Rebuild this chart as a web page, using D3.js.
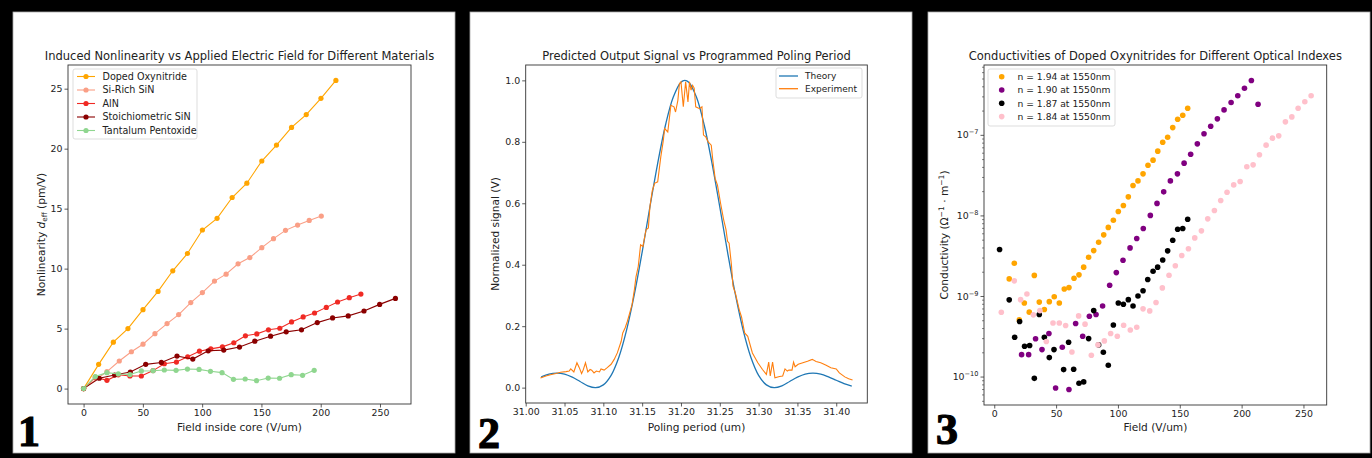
<!DOCTYPE html>
<html>
<head>
<meta charset="utf-8">
<script src="https://cdn.jsdelivr.net/npm/d3@7"></script>
<style>
  body { margin: 0; background: #000; overflow: hidden; }
  svg text { fill: #222; }
</style>
</head>
<body>
<div id="wrapper"></div>
<script>
// ---- panel 1 : induced nonlinearity vs field ----
const fieldOxy = [0,12.7,25.1,37.4,50.1,62.8,75.2,87.6,100.2,112.6,125.3,137.7,150.3,162.7,175.4,187.8,200.2,212.8];
const dOxy = [0,2.02,3.87,5.0,6.58,8.1,9.82,11.26,13.22,14.19,15.93,17.12,18.97,20.30,21.77,22.84,24.2,25.69];
const fieldSiRich = [0,19.7,30.1,40.3,50.1,60.2,70.4,80.2,90.4,100.2,110.4,120.2,130.3,140.2,150.3,160.2,170.3,180.5,190.3,200.5];
const dSiRich = [0,1.42,2.3,3.07,3.7,4.58,5.42,6.17,7.17,8.0,8.96,9.54,10.4,10.92,11.75,12.5,13.19,13.63,14.02,14.38];
const fieldAlN = [0,9.9,19.7,29.3,39.1,48.7,58.6,68.1,78.3,87.8,97.7,107.3,117.1,126.7,136.5,146.1,155.9,165.5,175.4,185.2,194.8,204.7,214.2,224.1,233.9];
const dAlN = [0,0.95,0.69,1.15,1.05,1.05,1.5,2.07,2.21,2.65,3.12,3.31,3.48,3.82,4.4,4.56,4.9,5.03,5.56,5.97,6.3,6.77,7.22,7.58,7.88];
const fieldSiN = [0,13.2,26.2,39.4,52.4,65.6,78.8,92.1,105.1,118.2,131.5,144.4,157.7,170.9,183.8,197.1,210,223.2,236.5,249.7,263];
const dSiN = [0,0.86,1.13,1.38,2.02,2.18,2.71,2.46,3.15,3.21,3.46,3.95,4.37,4.73,4.9,5.5,5.89,6.06,6.47,7.02,7.52];
const fieldTa = [0,9.9,19.7,29.3,39.1,48.7,58.6,68.1,78,87.6,97.4,107,116.8,126.4,136.3,145.8,155.7,165.3,175.1,184.7,194.5];
const dTa = [0,1.0,1.33,1.22,1.17,1.47,1.49,1.55,1.52,1.63,1.6,1.44,1.33,0.77,0.8,0.66,0.88,0.86,1.16,1.11,1.52];
const materials = ["Doped Oxynitride","Si-Rich SiN","AlN","Stoichiometric SiN","Tantalum Pentoxide"];
const ticks1X = [0,50,100,150,200,250];
const ticks1Y = [0,5,10,15,20,25];

// ---- panel 2 : output signal vs poling period ----
const periodTheory = [31.02,31.03,31.04,31.05,31.06,31.07,31.08,31.09,31.10,31.11,31.12,31.13,31.14,31.15,31.16,31.17,31.18,31.19,31.20,31.205,
  31.21,31.22,31.23,31.24,31.25,31.26,31.27,31.28,31.29,31.30,31.31,31.32,31.33,31.34,31.35,31.36,31.37,31.38,31.39,31.40,31.41,31.42];
const signalTheory = [0.035,0.044,0.047,0.044,0.034,0.020,0.006,0.000,0.009,0.040,0.099,0.188,0.304,0.441,0.588,0.730,0.854,0.945,0.994,1.000,
  0.994,0.945,0.854,0.730,0.588,0.441,0.304,0.188,0.099,0.040,0.009,0.000,0.006,0.020,0.034,0.044,0.047,0.044,0.035,0.024,0.013,0.005];
const periodExp = [31.019,31.026,31.032,31.039,31.045,31.052,31.056,31.058,31.062,31.066,
  31.069,31.072,31.074,31.077,31.080,31.083,31.085,31.088,31.091,31.095,
  31.097,31.101,31.105,31.110,31.114,31.118,31.123,31.125,31.128,31.131,
  31.134,31.137,31.140,31.142,31.145,31.148,31.151,31.155,31.158,31.160,
  31.163,31.166,31.170,31.174,31.177,31.179,31.183,31.187,31.191,31.193,
  31.196,31.198,31.200,31.203,31.206,31.209,31.211,31.213,31.215,31.217,
  31.219,31.224,31.227,31.229,31.232,31.235,31.239,31.241,31.244,31.247,
  31.251,31.255,31.258,31.260,31.262,31.265,31.267,31.270,31.275,31.278,
  31.282,31.286,31.292,31.299,31.305,31.310,31.313,31.315,31.318,31.321,
  31.327,31.331,31.334,31.337,31.339,31.343,31.345,31.347,31.351,31.357,
  31.363,31.369,31.374,31.380,31.387,31.393,31.400,31.404,31.411,31.416,31.421];
const signalExp = [0.031,0.038,0.042,0.046,0.050,0.052,0.054,0.061,0.051,0.081,
  0.065,0.046,0.057,0.081,0.051,0.059,0.057,0.048,0.054,0.051,
  0.061,0.057,0.065,0.076,0.092,0.113,0.151,0.178,0.194,0.216,
  0.243,0.270,0.319,0.360,0.395,0.465,0.459,0.514,0.520,0.589,
  0.640,0.665,0.670,0.751,0.800,0.843,0.832,0.919,0.914,0.897,
  0.935,0.989,0.995,0.914,0.995,0.930,0.995,0.968,0.984,0.975,
  0.914,0.908,0.914,0.822,0.816,0.800,0.789,0.741,0.681,0.659,
  0.600,0.546,0.514,0.476,0.470,0.400,0.330,0.308,0.254,0.230,
  0.178,0.167,0.113,0.081,0.059,0.043,0.083,0.038,0.083,0.032,
  0.036,0.038,0.061,0.054,0.057,0.057,0.083,0.068,0.076,0.081,
  0.086,0.092,0.085,0.081,0.073,0.065,0.061,0.048,0.035,0.029,0.025];
const ticks2X = [31.00,31.05,31.10,31.15,31.20,31.25,31.30,31.35,31.40];
const ticks2Y = [0,0.2,0.4,0.6,0.8,1.0];

// ---- panel 3 : conductivity vs field (log) ----
const field194 = [12.1,16.2,20.2,24.3,28.3,32.4,36.4,40.5,44.5,48.5,52.6,56.6,60.4,64.5,68.5,72.3,76.3,80.4,84.4,88.5,
  92.2,96.3,100.3,104.4,108.4,112.2,116.2,120.3,124.3,128.4,132.2,136.2,140.2,144.3,148.3,152.4,156.4];
const sigma194 = [1.63e-9,2.55e-9,5.05e-10,8.2e-10,6.3e-10,1.8e-9,8.4e-10,6.8e-10,8.5e-10,9.8e-10,
  8.2e-10,1.22e-9,1.27e-9,1.66e-9,1.83e-9,2.28e-9,3.03e-9,3.66e-9,4.65e-9,5.74e-9,
  7.1e-9,8.7e-9,1.12e-8,1.33e-8,1.70e-8,2.35e-8,2.68e-8,3.28e-8,4.2e-8,4.85e-8,
  6.27e-8,8.1e-8,9.35e-8,1.23e-7,1.56e-7,1.75e-7,2.14e-7];
const field190 = [22.1,27.8,33.4,38.6,44.2,49.6,55.0,60.4,65.8,71.5,76.9,82.3,87.6,93.3,98.7,104.1,109.8,115.2,120.5,126.2,
  131.6,137.0,142.4,148.1,153.5,158.8,164.2,169.6,175.0,180.4,185.8,191.5,196.9,202.3,207.9,213.3];
const sigma190 = [1.87e-10,1.87e-10,2.94e-10,2.16e-10,3.42e-10,7.2e-11,2.31e-10,6.9e-11,4.55e-10,3.17e-10,
  5.6e-10,5.9e-10,7.5e-10,1.36e-9,1.95e-9,2.78e-9,3.95e-9,5.16e-9,6.87e-9,1.0e-8,
  1.41e-8,1.96e-8,2.68e-8,3.28e-8,4.45e-8,5.75e-8,7.73e-8,1.03e-7,1.28e-7,1.58e-7,
  2.04e-7,2.52e-7,3.05e-7,3.79e-7,4.73e-7,2.40e-7];
const field187 = [4.3,12.1,16.5,20.5,24.5,28.6,32.4,36.4,40.5,44.5,48.3,56.1,60.1,64.2,68.5,72.3,76.3,80.4,84.4,88.2,
  92.2,96.3,100.3,104.4,108.4,112.2,116.2,120.3,124.1,128.4,132.1,136.2,140.2,144.3,148.3,152.4,156.4];
const sigma187 = [3.78e-9,8.95e-10,3.08e-10,4.82e-10,2.38e-10,2.43e-10,9.5e-11,5.89e-10,3.08e-10,1.72e-10,
  2.16e-10,1.22e-10,2.67e-10,1.23e-10,8.26e-11,8.59e-11,2.96e-10,6.59e-10,2.47e-10,2.0e-10,
  1.38e-10,4.37e-10,8.2e-10,7.9e-10,9.0e-10,7.5e-10,1.0e-9,1.16e-9,1.6e-9,2.03e-9,
  2.28e-9,2.8e-9,3.63e-9,4.92e-9,6.74e-9,6.87e-9,8.97e-9];
const field184 = [5.7,16.2,21.3,26.4,31.6,36.9,42.1,47.5,52.6,57.7,62.8,68.2,73.4,78.5,83.9,89.0,94.1,99.5,104.6,110.0,
  115.2,120.3,125.7,130.8,135.9,141.3,146.4,151.6,157.0,162.1,167.5,172.6,178.0,183.1,188.2,193.6,198.8,204.2,209.3,214.4,
  219.8,224.9,230.0,235.4,240.6,245.7,251.1,256.2];
const sigma184 = [6.29e-10,1.54e-9,9.0e-10,1.06e-9,5.83e-10,6.59e-10,2.72e-10,4.63e-10,4.63e-10,4.3e-10,
  2.02e-10,5.66e-10,4.47e-10,1.84e-10,2.47e-10,2.77e-10,3.42e-10,3.17e-10,4.34e-10,3.79e-10,
  4.09e-10,6.92e-10,6.53e-10,8.3e-10,1.26e-9,1.81e-9,2.37e-9,3.18e-9,3.85e-9,5.26e-9,
  6.43e-9,9.06e-9,1.15e-8,1.53e-8,1.94e-8,2.39e-8,2.63e-8,4.01e-8,4.24e-8,5.65e-8,
  7.45e-8,9.1e-8,9.72e-8,1.45e-7,1.67e-7,2.14e-7,2.57e-7,3.05e-7];
const indexLabels = ["n = 1.94 at 1550nm","n = 1.90 at 1550nm","n = 1.87 at 1550nm","n = 1.84 at 1550nm"];
const ticks3X = [0,50,100,150,200,250];
const ticks3Y = [1e-10,1e-9,1e-8,1e-7];

// ---------------------------------------------------------------
const width = 1372, height = 458;
const FONT = "DejaVu Sans, sans-serif";
const svg = d3.select("#wrapper").append("svg")
    .attr("width", width)
    .attr("height", height)
    .style("font-family", FONT);
svg.append("rect").attr("width", width).attr("height", height).attr("fill", "#000");

const zip = (xs, ys) => xs.map((x, i) => [x, ys[i]]);
// matplotlib style 5% margins
const pad = (ext) => { const r = ext[1] - ext[0]; return [ext[0] - 0.05 * r, ext[1] + 0.05 * r]; };

function panel(p) {
    svg.append("rect")
        .attr("x", p.x).attr("y", p.y).attr("width", p.w).attr("height", p.h)
        .attr("fill", "#fff").attr("stroke", "#aaa").attr("stroke-width", 0.8);
    svg.append("text")
        .attr("x", p.numX).attr("y", p.numY)
        .text(p.num)
        .style("font-family", "Liberation Serif, serif")
        .style("font-weight", "bold")
        .style("font-size", "44px")
        .style("fill", "#000")
        .attr("stroke", "#000").attr("stroke-width", 1.2);
}

function frame(a, xScale, yScale, xTicks, yTicks, xFmt, yFmt) {
    const g = svg.append("g");
    const xAxis = g.append("g")
        .attr("transform", `translate(0,${a.bottom})`)
        .call(d3.axisBottom(xScale).tickValues(xTicks).tickFormat(xFmt).tickSize(3.5).tickPadding(2));
    const yAxis = g.append("g")
        .attr("transform", `translate(${a.left},0)`)
        .call(d3.axisLeft(yScale).tickValues(yTicks).tickFormat(yFmt).tickSize(3.5).tickPadding(2));
    [xAxis, yAxis].forEach(ax => {
        ax.attr("font-family", FONT);
        ax.select(".domain").remove();
        ax.selectAll("line").attr("stroke", "#333").attr("stroke-width", 0.8);
        ax.selectAll("text").attr("font-size", 9.4).style("fill", "#222");
    });
    return { g, xAxis, yAxis };
}

function box(a) {
    svg.append("rect")
        .attr("x", a.left).attr("y", a.top)
        .attr("width", a.right - a.left).attr("height", a.bottom - a.top)
        .attr("fill", "none").attr("stroke", "#333").attr("stroke-width", 0.9);
}

function labels(a, title, xLabel, yLabelX) {
    const cx = (a.left + a.right) / 2;
    svg.append("text").attr("x", cx).attr("y", 60)
        .attr("text-anchor", "middle").attr("font-size", 11.5).text(title);
    svg.append("text").attr("x", cx).attr("y", 431)
        .attr("text-anchor", "middle").attr("font-size", 10.6).text(xLabel);
    return svg.append("text")
        .attr("transform", `translate(${yLabelX},${(a.top + a.bottom) / 2}) rotate(-90)`)
        .attr("text-anchor", "middle").attr("font-size", 10.6);
}

function legendBox(x, y, w, h) {
    svg.append("rect")
        .attr("x", x).attr("y", y).attr("width", w).attr("height", h).attr("rx", 2)
        .attr("fill", "#fff").attr("fill-opacity", 0.85)
        .attr("stroke", "#d4d4d4").attr("stroke-width", 0.8);
}

// ================= Panel 1 =================
panel({ x: 13, y: 12, w: 442, h: 441, num: "1", numX: 18, numY: 446 });
const a1 = { left: 68, right: 411, top: 65, bottom: 404 };
const series1 = [
    { name: materials[0], xs: fieldOxy, ys: dOxy, color: "#ffa500" },
    { name: materials[1], xs: fieldSiRich, ys: dSiRich, color: "#fa9f86" },
    { name: materials[2], xs: fieldAlN, ys: dAlN, color: "#f02a24" },
    { name: materials[3], xs: fieldSiN, ys: dSiN, color: "#8b0000" },
    { name: materials[4], xs: fieldTa, ys: dTa, color: "#8fd68f" },
];
const x1 = d3.scaleLinear()
    .domain(pad(d3.extent(series1.flatMap(s => s.xs))))
    .range([a1.left, a1.right]);
const y1 = d3.scaleLinear()
    .domain(pad(d3.extent(series1.flatMap(s => s.ys))))
    .range([a1.bottom, a1.top]);
frame(a1, x1, y1, ticks1X, ticks1Y, d3.format("d"), d3.format("d"));

const line1 = d3.line().x(d => x1(d[0])).y(d => y1(d[1]));
series1.forEach(s => {
    const pts = zip(s.xs, s.ys);
    svg.append("path").datum(pts)
        .attr("d", line1).attr("fill", "none")
        .attr("stroke", s.color).attr("stroke-width", 1.1);
    svg.append("g").selectAll("circle").data(pts).join("circle")
        .attr("cx", d => x1(d[0])).attr("cy", d => y1(d[1]))
        .attr("r", 2.6).attr("fill", s.color);
});
box(a1);
const yl1 = labels(a1, "Induced Nonlinearity vs Applied Electric Field for Different Materials", "Field inside core (V/um)", 45);
yl1.append("tspan").text("Nonlinearity ");
yl1.append("tspan").attr("font-style", "italic").text("d");
yl1.append("tspan").attr("font-size", 7.2).attr("dy", 2.2).text("eff");
yl1.append("tspan").attr("dy", -2.2).text(" (pm/V)");

legendBox(73, 69, 124, 70);
series1.forEach((s, i) => {
    const ly = 76.5 + i * 13.5;
    svg.append("line").attr("x1", 77).attr("x2", 95).attr("y1", ly).attr("y2", ly)
        .attr("stroke", s.color).attr("stroke-width", 1.1);
    svg.append("circle").attr("cx", 86).attr("cy", ly).attr("r", 2.6).attr("fill", s.color);
    svg.append("text").attr("x", 102.5).attr("y", ly + 3.4).attr("font-size", 9.6).text(s.name);
});

// ================= Panel 2 =================
panel({ x: 470, y: 12, w: 442, h: 441, num: "2", numX: 478, numY: 448 });
const a2 = { left: 525.7, right: 867.3, top: 65, bottom: 403 };
const x2 = d3.scaleLinear()
    .domain(pad(d3.extent(periodTheory)))
    .range([a2.left, a2.right]);
const y2 = d3.scaleLinear()
    .domain(pad(d3.extent(signalTheory)))
    .range([a2.bottom, a2.top]);
frame(a2, x2, y2, ticks2X, ticks2Y, d3.format(".2f"), d3.format(".1f"));

svg.append("path").datum(zip(periodTheory, signalTheory))
    .attr("d", d3.line().x(d => x2(d[0])).y(d => y2(d[1])).curve(d3.curveCatmullRom))
    .attr("fill", "none").attr("stroke", "#1f77b4").attr("stroke-width", 1.3);
svg.append("path").datum(zip(periodExp, signalExp))
    .attr("d", d3.line().x(d => x2(d[0])).y(d => y2(d[1])))
    .attr("fill", "none").attr("stroke", "#ff7f0e").attr("stroke-width", 1.1);
box(a2);
labels(a2, "Predicted Output Signal vs Programmed Poling Period", "Poling period (um)", 499)
    .text("Normalized signal (V)");

legendBox(776, 68, 86, 30);
[["Theory", "#1f77b4"], ["Experiment", "#ff7f0e"]].forEach((e, i) => {
    const ly = 76 + i * 12.7;
    svg.append("line").attr("x1", 779).attr("x2", 798).attr("y1", ly).attr("y2", ly)
        .attr("stroke", e[1]).attr("stroke-width", 1.3);
    svg.append("text").attr("x", 805).attr("y", ly + 3.3).attr("font-size", 9).text(e[0]);
});

// ================= Panel 3 =================
panel({ x: 928, y: 12, w: 442, h: 441, num: "3", numX: 936, numY: 444 });
const a3 = { left: 984, right: 1326.7, top: 65, bottom: 405 };
const series3 = [
    { name: indexLabels[0], xs: field194, ys: sigma194, color: "#ffa500" },
    { name: indexLabels[1], xs: field190, ys: sigma190, color: "#800080" },
    { name: indexLabels[2], xs: field187, ys: sigma187, color: "#000000" },
    { name: indexLabels[3], xs: field184, ys: sigma184, color: "#ffc0cb" },
];
const x3 = d3.scaleLinear()
    .domain(pad(d3.extent(series3.flatMap(s => s.xs))))
    .range([a3.left, a3.right]);
const logExt = pad(d3.extent(series3.flatMap(s => s.ys), v => Math.log10(v)));
const y3 = d3.scaleLog()
    .domain([Math.pow(10, logExt[0]), Math.pow(10, logExt[1])])
    .range([a3.bottom, a3.top]);
const ax3 = frame(a3, x3, y3, ticks3X, ticks3Y, d3.format("d"), () => "");
// 10^k labels with superscripts
ax3.yAxis.selectAll(".tick text").each(function (d) {
    const t = d3.select(this);
    t.text(null);
    t.append("tspan").text("10");
    t.append("tspan").attr("dy", -4).attr("font-size", 6.6).text("\u2212" + Math.round(-Math.log10(d)));
});
// minor log ticks
const minor = [];
for (let k = -11; k <= -6; k++) for (let m = 2; m <= 9; m++) {
    const v = m * Math.pow(10, k);
    if (v >= y3.domain()[0] && v <= y3.domain()[1]) minor.push(v);
}
svg.append("g")
    .attr("transform", `translate(${a3.left},0)`)
    .call(d3.axisLeft(y3).tickValues(minor).tickFormat("").tickSize(2))
    .call(g => g.select(".domain").remove())
    .selectAll("line").attr("stroke", "#333").attr("stroke-width", 0.6);

series3.forEach(s => {
    svg.append("g").selectAll("circle").data(zip(s.xs, s.ys)).join("circle")
        .attr("cx", d => x3(d[0])).attr("cy", d => y3(d[1]))
        .attr("r", 2.8).attr("fill", s.color);
});
box(a3);
const yl3 = labels(a3, "Conductivities of Doped Oxynitrides for Different Optical Indexes", "Field (V/um)", 948);
yl3.append("tspan").text("Conductivity (\u03A9");
yl3.append("tspan").attr("font-size", 7.6).attr("dy", -4.5).text("\u22121");
yl3.append("tspan").attr("dy", 4.5).text(" \u00B7 m");
yl3.append("tspan").attr("font-size", 7.6).attr("dy", -4.5).text("\u22121");
yl3.append("tspan").attr("dy", 4.5).text(")");

legendBox(988, 69, 127, 57);
series3.forEach((s, i) => {
    const ly = 76.7 + i * 13.3;
    svg.append("circle").attr("cx", 1001.7).attr("cy", ly).attr("r", 2.8).attr("fill", s.color);
    svg.append("text").attr("x", 1017.5).attr("y", ly + 3.3).attr("font-size", 9.2).text(s.name);
});
</script>
</body>
</html>
